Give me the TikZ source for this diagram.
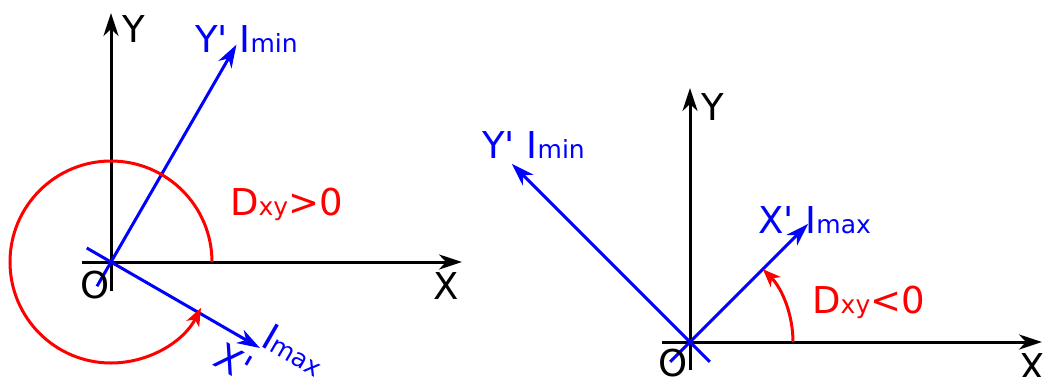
\documentclass[tikz,border=0pt]{standalone}
\usepackage{fontspec}
\setmainfont{DejaVu Sans}
\usetikzlibrary{arrows.meta,calc}
\newcommand{\sub}[1]{{\fontsize{25}{25}\selectfont #1}}

\begin{document}
\begin{tikzpicture}[
  x=1pt, y=1pt,
  >={Stealth[length=23pt,width=15pt,inset=7pt]},
  axis/.style={line width=3pt, black},
  paxis/.style={line width=3pt, blue},
  turn/.style={line width=3pt, red, -{Stealth[length=18pt,width=14pt,inset=5pt]}},
  every node/.style={font=\fontsize{37}{40}\selectfont, inner sep=0pt}
]
  \useasboundingbox (0,0) rectangle (1043,376);

  % left frame, D_xy > 0
  \coordinate (o1) at (111,114);
  \coordinate (y1a) at (111,85);
  \coordinate (y1b) at (111,363);
  \coordinate (x1a) at (82,114);
  \coordinate (x1b) at (462,114);
  \coordinate (yp1a) at ($(o1)+(240:28)$);
  \coordinate (yp1b) at ($(o1)+(60:251)$);
  \coordinate (xp1a) at ($(o1)+(150:28)$);
  \coordinate (xp1b) at ($(o1)+(-30:172)$);
  \coordinate (r1) at ($(o1)+(0:101)$);

  \draw[axis,->] (y1a) -- (y1b);
  \draw[axis,->] (x1a) -- (x1b);
  \draw[paxis,->] (yp1a) -- (yp1b);
  \draw[paxis,->] (xp1a) -- (xp1b);
  \draw[turn] (r1) arc[start angle=0, end angle=333, radius=101];

  \node (ly1) at (134,347) {Y};
  \node (lx1) at (446,90) {X};
  \node (lo1) at (95,91) {O};
  \node[blue, anchor=base west] (lyp1) at (195,324) {Y\textquotesingle{} I\sub{min}};
  \node[blue, rotate=-30] (lxp1) at (234,14) {X\textquotesingle};
  \node[blue, rotate=-30] (lim1) at (294,26) {I\sub{max}};
  \node[red, anchor=base west] (ld1) at (230,161) {D\sub{xy}>0};

  % right frame, D_xy < 0
  \coordinate (o2) at (690,34);
  \coordinate (y2a) at (690,6);
  \coordinate (y2b) at (690,288);
  \coordinate (x2a) at (662,34);
  \coordinate (x2b) at (1042,34);
  \coordinate (yp2a) at ($(o2)+(-45:28)$);
  \coordinate (yp2b) at ($(o2)+(135:252)$);
  \coordinate (xp2a) at ($(o2)+(225:28)$);
  \coordinate (xp2b) at ($(o2)+(45:167)$);
  \coordinate (r2) at ($(o2)+(0:103)$);

  \draw[axis,->] (y2a) -- (y2b);
  \draw[axis,->] (x2a) -- (x2b);
  \draw[paxis,->] (yp2a) -- (yp2b);
  \draw[paxis,->] (xp2a) -- (xp2b);
  \draw[turn] (r2) arc[start angle=0, end angle=45, radius=103];

  \node (ly2) at (713,269) {Y};
  \node (lx2) at (1032,9) {X};
  \node (lo2) at (673,13) {O};
  \node[blue, anchor=base west] (lyp2) at (482,218) {Y\textquotesingle{} I\sub{min}};
  \node[blue, anchor=base west] (lxp2) at (758,143) {X\textquotesingle{} I\sub{max}};
  \node[red, anchor=base west] (ld2) at (812,63) {D\sub{xy}<0};
\end{tikzpicture}
\end{document}
